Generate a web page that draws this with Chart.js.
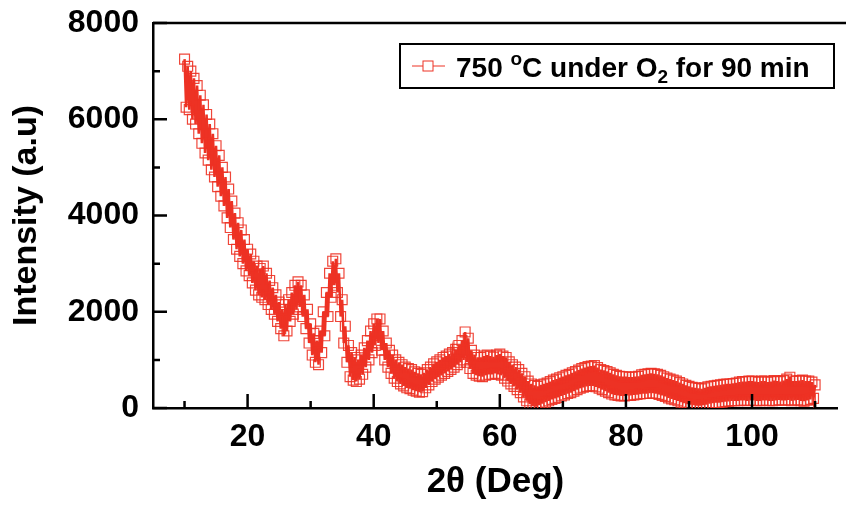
<!DOCTYPE html>
<html>
<head>
<meta charset="utf-8">
<script src="https://cdn.jsdelivr.net/npm/chart.js@4"></script>
<style>
  html, body { margin: 0; padding: 0; background: #fff; }
  #wrap { width: 846px; height: 505px; position: relative; }
</style>
</head>
<body>
<div id="wrap"><canvas id="xrdChart"></canvas></div>
<script>
// 2-theta positions (deg), scan step 0.25
const twoTheta = [
  10, 10.25, 10.5, 10.75, 11, 11.25, 11.5, 11.75, 12, 12.25, 12.5, 12.75, 13, 13.25, 13.5, 13.75, 14, 14.25, 14.5, 14.75,
  15, 15.25, 15.5, 15.75, 16, 16.25, 16.5, 16.75, 17, 17.25, 17.5, 17.75, 18, 18.25, 18.5, 18.75, 19, 19.25, 19.5, 19.75,
  20, 20.25, 20.5, 20.75, 21, 21.25, 21.5, 21.75, 22, 22.25, 22.5, 22.75, 23, 23.25, 23.5, 23.75, 24, 24.25, 24.5, 24.75,
  25, 25.25, 25.5, 25.75, 26, 26.25, 26.5, 26.75, 27, 27.25, 27.5, 27.75, 28, 28.25, 28.5, 28.75, 29, 29.25, 29.5, 29.75,
  30, 30.25, 30.5, 30.75, 31, 31.25, 31.5, 31.75, 32, 32.25, 32.5, 32.75, 33, 33.25, 33.5, 33.75, 34, 34.25, 34.5, 34.75,
  35, 35.25, 35.5, 35.75, 36, 36.25, 36.5, 36.75, 37, 37.25, 37.5, 37.75, 38, 38.25, 38.5, 38.75, 39, 39.25, 39.5, 39.75,
  40, 40.25, 40.5, 40.75, 41, 41.25, 41.5, 41.75, 42, 42.25, 42.5, 42.75, 43, 43.25, 43.5, 43.75, 44, 44.25, 44.5, 44.75,
  45, 45.25, 45.5, 45.75, 46, 46.25, 46.5, 46.75, 47, 47.25, 47.5, 47.75, 48, 48.25, 48.5, 48.75, 49, 49.25, 49.5, 49.75,
  50, 50.25, 50.5, 50.75, 51, 51.25, 51.5, 51.75, 52, 52.25, 52.5, 52.75, 53, 53.25, 53.5, 53.75, 54, 54.25, 54.5, 54.75,
  55, 55.25, 55.5, 55.75, 56, 56.25, 56.5, 56.75, 57, 57.25, 57.5, 57.75, 58, 58.25, 58.5, 58.75, 59, 59.25, 59.5, 59.75,
  60, 60.25, 60.5, 60.75, 61, 61.25, 61.5, 61.75, 62, 62.25, 62.5, 62.75, 63, 63.25, 63.5, 63.75, 64, 64.25, 64.5, 64.75,
  65, 65.25, 65.5, 65.75, 66, 66.25, 66.5, 66.75, 67, 67.25, 67.5, 67.75, 68, 68.25, 68.5, 68.75, 69, 69.25, 69.5, 69.75,
  70, 70.25, 70.5, 70.75, 71, 71.25, 71.5, 71.75, 72, 72.25, 72.5, 72.75, 73, 73.25, 73.5, 73.75, 74, 74.25, 74.5, 74.75,
  75, 75.25, 75.5, 75.75, 76, 76.25, 76.5, 76.75, 77, 77.25, 77.5, 77.75, 78, 78.25, 78.5, 78.75, 79, 79.25, 79.5, 79.75,
  80, 80.25, 80.5, 80.75, 81, 81.25, 81.5, 81.75, 82, 82.25, 82.5, 82.75, 83, 83.25, 83.5, 83.75, 84, 84.25, 84.5, 84.75,
  85, 85.25, 85.5, 85.75, 86, 86.25, 86.5, 86.75, 87, 87.25, 87.5, 87.75, 88, 88.25, 88.5, 88.75, 89, 89.25, 89.5, 89.75,
  90, 90.25, 90.5, 90.75, 91, 91.25, 91.5, 91.75, 92, 92.25, 92.5, 92.75, 93, 93.25, 93.5, 93.75, 94, 94.25, 94.5, 94.75,
  95, 95.25, 95.5, 95.75, 96, 96.25, 96.5, 96.75, 97, 97.25, 97.5, 97.75, 98, 98.25, 98.5, 98.75, 99, 99.25, 99.5, 99.75,
  100, 100.25, 100.5, 100.75, 101, 101.25, 101.5, 101.75, 102, 102.25, 102.5, 102.75, 103, 103.25, 103.5, 103.75, 104, 104.25, 104.5, 104.75,
  105, 105.25, 105.5, 105.75, 106, 106.25, 106.5, 106.75, 107, 107.25, 107.5, 107.75, 108, 108.25, 108.5, 108.75, 109, 109.25, 109.5, 109.75,
  110
];

// intensity (a.u), zig-zagging between top and bottom of the noisy band
const intensity = [
  7250, 6250, 7100, 6200, 7000, 6000, 6850, 5900, 6700, 5700, 6500, 5500, 6300, 5300, 6100, 5150, 5900, 4950, 5700, 4800,
  5450, 4600, 5250, 4400, 5000, 4200, 4800, 3950, 4550, 3750, 4300, 3500, 4050, 3300, 3850, 3150, 3700, 3000, 3500, 2850,
  3300, 2750, 3200, 2600, 3050, 2450, 2950, 2350, 2900, 2300, 2950, 2250, 2800, 2150, 2650, 2050, 2500, 1950, 2350, 1800,
  2200, 1650, 2050, 1500, 2150, 1600, 2250, 1800, 2400, 1950, 2550, 2050, 2620, 2100, 2550, 1900, 2350, 1650, 2050, 1350,
  1750, 1100, 1550, 950, 1400, 900, 1600, 1150, 2000, 1500, 2400, 1900, 2800, 2300, 3050, 2550, 3100, 2400, 2800, 1900,
  2250, 1350, 1700, 950, 1300, 650, 1150, 580, 1050, 550, 1000, 600, 1100, 700, 1250, 850, 1400, 1000, 1600, 1150,
  1750, 1300, 1850, 1350, 1850, 1200, 1600, 1000, 1350, 850, 1200, 720, 1100, 620, 1000, 550, 950, 500, 900, 460,
  850, 420, 820, 400, 800, 370, 750, 350, 720, 330, 700, 340, 730, 420, 800, 480, 850, 550, 920, 600,
  960, 640, 1000, 680, 1050, 720, 1080, 760, 1120, 800, 1150, 850, 1220, 900, 1300, 950, 1400, 1000, 1580, 950,
  1450, 820, 1200, 720, 1100, 680, 1050, 660, 1050, 650, 1080, 680, 1100, 700, 1080, 700, 1060, 720, 1100, 700,
  1120, 680, 1080, 620, 1050, 560, 960, 500, 900, 450, 850, 380, 800, 320, 720, 230, 650, 150, 560, 80,
  500, 40, 470, 30, 450, 60, 480, 90, 500, 120, 520, 150, 550, 180, 580, 200, 600, 220, 630, 250,
  650, 270, 680, 300, 700, 320, 730, 350, 760, 380, 790, 410, 820, 430, 840, 450, 860, 460, 870, 460,
  880, 440, 840, 410, 800, 380, 780, 350, 760, 320, 730, 290, 700, 270, 680, 260, 660, 250, 650, 250,
  650, 260, 640, 260, 640, 270, 650, 280, 660, 290, 690, 300, 700, 300, 710, 310, 720, 310, 710, 300,
  700, 280, 680, 260, 650, 240, 620, 210, 600, 190, 580, 170, 560, 150, 530, 120, 500, 100, 470, 80,
  450, 70, 430, 60, 420, 50, 410, 50, 400, 60, 420, 70, 440, 90, 450, 100, 460, 110, 470, 110,
  480, 120, 490, 130, 500, 140, 500, 150, 510, 150, 520, 150, 540, 160, 550, 160, 550, 150, 560, 160,
  560, 160, 550, 150, 540, 150, 560, 160, 560, 160, 540, 150, 550, 150, 570, 160, 560, 170, 550, 160,
  570, 160, 600, 170, 640, 150, 560, 160, 560, 170, 570, 150, 580, 140, 560, 160, 560, 180, 540, 200,
  480
];

const xMajor = [20, 40, 60, 80, 100];
const xMinor = [10, 30, 50, 70, 90, 110];
const yMajor = [0, 2000, 4000, 6000, 8000];
const yMinor = [1000, 3000, 5000, 7000];

const RED = 'rgb(237, 50, 36)';
const FONT = '"Liberation Sans", Arial, Helvetica, sans-serif';

// ticks pointing inward + top frame line
const framePlugin = {
  id: 'frame',
  afterDraw(chart) {
    const ctx = chart.ctx;
    const a = chart.chartArea;
    const xs = chart.scales.x, ys = chart.scales.y;
    ctx.save();
    ctx.strokeStyle = '#000';
    ctx.lineWidth = 2.5;
    ctx.beginPath();
    ctx.moveTo(a.left, a.top);
    ctx.lineTo(chart.width, a.top);
    ctx.stroke();
    ctx.beginPath();
    xMajor.forEach(v => { const p = xs.getPixelForValue(v); ctx.moveTo(p, a.bottom); ctx.lineTo(p, a.bottom - 14); });
    xMinor.forEach(v => { const p = xs.getPixelForValue(v); ctx.moveTo(p, a.bottom); ctx.lineTo(p, a.bottom - 7); });
    yMajor.forEach(v => { const p = ys.getPixelForValue(v); ctx.moveTo(a.left, p); ctx.lineTo(a.left + 14, p); });
    yMinor.forEach(v => { const p = ys.getPixelForValue(v); ctx.moveTo(a.left, p); ctx.lineTo(a.left + 7, p); });
    ctx.stroke();
    ctx.restore();
  }
};

// legend box with superscript / subscript text
const legendPlugin = {
  id: 'xrdLegend',
  afterDraw(chart) {
    const ctx = chart.ctx;
    ctx.save();
    ctx.strokeStyle = '#000';
    ctx.lineWidth = 2;
    ctx.strokeRect(400, 44, 434, 44);
    ctx.strokeStyle = RED;
    ctx.lineWidth = 1;
    ctx.beginPath();
    ctx.moveTo(412, 66); ctx.lineTo(445, 66);
    ctx.stroke();
    ctx.fillStyle = '#fff';
    ctx.fillRect(423, 61, 10, 10);
    ctx.strokeRect(423, 61, 10, 10);

    ctx.fillStyle = '#000';
    ctx.textBaseline = 'alphabetic';
    let x = 456;
    const base = 77;
    const big = 'bold 28px ' + FONT;
    const small = 'bold 19px ' + FONT;
    const parts = [
      { t: '750 ', f: big, dy: 0 },
      { t: 'o', f: small, dy: -12 },
      { t: 'C under O', f: big, dy: 0 },
      { t: '2', f: small, dy: 6 },
      { t: ' for 90 min', f: big, dy: 0 }
    ];
    parts.forEach(p => {
      ctx.font = p.f;
      ctx.fillText(p.t, x, base + p.dy);
      x += ctx.measureText(p.t).width;
    });
    ctx.restore();
  }
};

const ctx = document.getElementById('xrdChart').getContext('2d');
new Chart(ctx, {
  type: 'scatter',
  data: {
    datasets: [{
      label: '750 °C under O2 for 90 min',
      data: twoTheta.map((t, i) => ({ x: t, y: intensity[i] })),
      showLine: true,
      borderColor: RED,
      borderWidth: 2.5,
      pointStyle: 'rect',
      pointRadius: 7,
      pointBorderWidth: 1.2,
      pointBorderColor: 'rgba(237, 50, 36, 0.9)',
      pointBackgroundColor: 'rgba(255,255,255,0)',
      tension: 0
    }]
  },
  options: {
    responsive: true,
    maintainAspectRatio: false,
    animation: false,
    layout: { padding: { top: 23, right: 0, left: 0, bottom: 0 } },
    plugins: {
      legend: { display: false },
      tooltip: { enabled: false }
    },
    scales: {
      x: {
        type: 'linear',
        min: 5,
        max: 113.6,
        afterBuildTicks: s => { s.ticks = xMajor.map(v => ({ value: v })); },
        afterFit: s => { s.height = 97; s.paddingLeft = 0; s.paddingRight = 0; },
        grid: { display: false, drawTicks: false },
        border: { display: true, color: '#000', width: 2.5 },
        ticks: { color: '#000', padding: 10, font: { family: FONT, size: 32, weight: 'bold' }, callback: v => String(v) },
        title: {
          display: true, text: '2θ (Deg)', color: '#000',
          font: { family: FONT, size: 35, weight: 'bold' },
          padding: { top: 0, bottom: 2 }
        }
      },
      y: {
        min: 0,
        max: 8000,
        afterBuildTicks: s => { s.ticks = yMajor.map(v => ({ value: v })); },
        afterFit: s => { s.width = 153; s.paddingTop = 0; s.paddingBottom = 0; },
        grid: { display: false, drawTicks: false },
        border: { display: true, color: '#000', width: 2.5 },
        ticks: { color: '#000', padding: 14, font: { family: FONT, size: 32, weight: 'bold' }, callback: v => String(v) },
        title: {
          display: true, text: 'Intensity (a.u)', color: '#000',
          font: { family: FONT, size: 34, weight: 'bold' },
          padding: { top: 6, bottom: 0 }
        }
      }
    }
  },
  plugins: [framePlugin, legendPlugin]
});
</script>
</body>
</html>
